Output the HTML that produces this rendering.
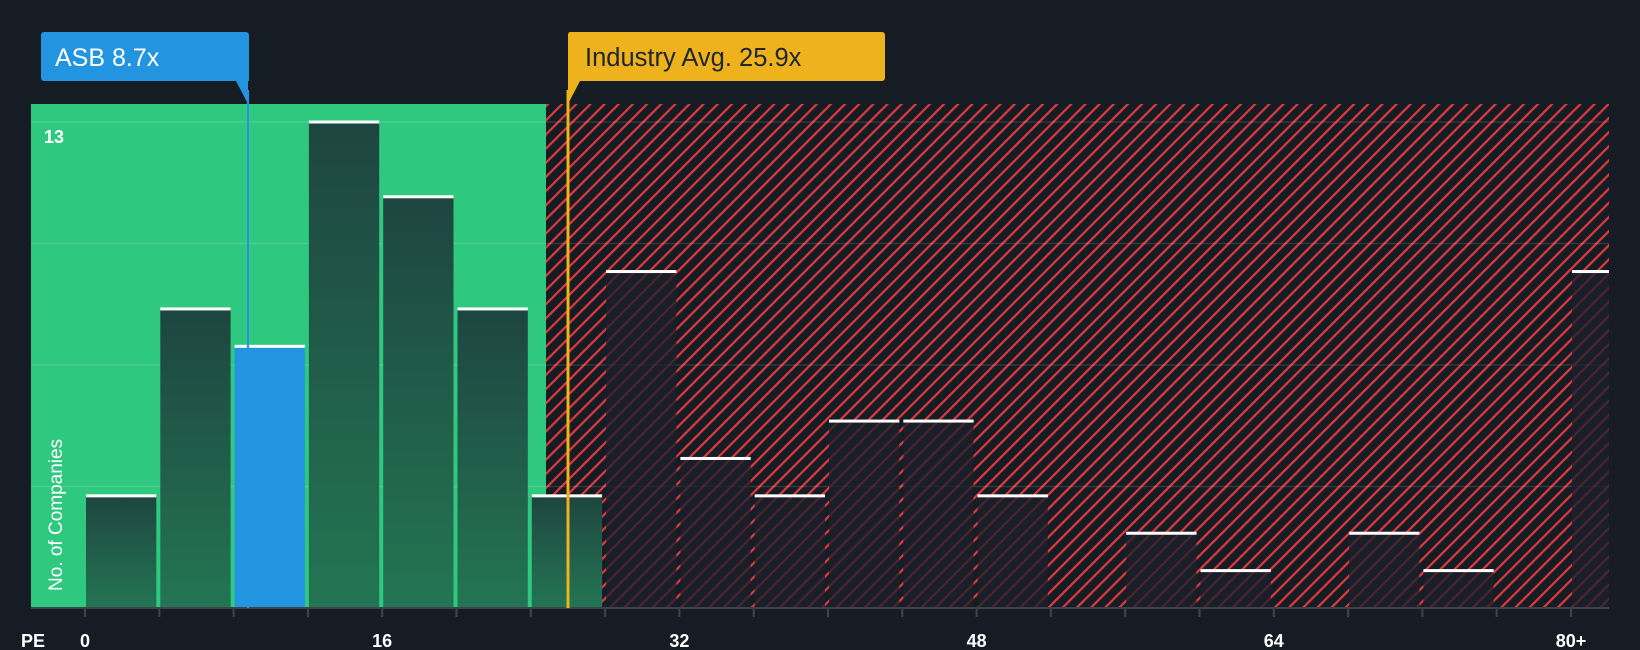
<!DOCTYPE html>
<html><head><meta charset="utf-8"><style>
html,body{margin:0;padding:0;background:#161c24;}
svg{display:block;font-family:"Liberation Sans",sans-serif;}
</style></head><body>
<svg id="chart" width="1640" height="650" viewBox="0 0 1640 650">
<defs>
<pattern id="hatch" patternUnits="userSpaceOnUse" width="10" height="10" patternTransform="rotate(45)">
<rect width="10" height="10" fill="#161c24"/>
<rect x="0" y="0" width="2.2" height="10" fill="#e0393e"/>
</pattern>
<linearGradient id="gbar" x1="0" y1="0" x2="0" y2="1">
<stop offset="0" stop-color="#1e4540"/><stop offset="1" stop-color="#237553"/>
</linearGradient>
<clipPath id="plotclip"><rect x="31" y="104" width="1578" height="504"/></clipPath>
</defs>
<rect x="31" y="104" width="515" height="504" fill="#2ec87f"/>
<rect x="546" y="104" width="1063" height="504" fill="url(#hatch)"/>
<g id="grid"></g>
<g id="bars" clip-path="url(#plotclip)"></g>
<line x1="31" y1="608" x2="1609" y2="608" stroke="#3d434c" stroke-width="2"/>
<g id="ticks"></g>
<text x="44" y="143" fill="#ffffff" font-size="18" font-weight="bold">13</text>
<text transform="translate(62,591) rotate(-90)" fill="#ffffff" font-size="19">No. of Companies</text>
<text x="21" y="647" fill="#ffffff" font-size="18" font-weight="bold">PE</text>
<line x1="248" y1="90" x2="248" y2="608" stroke="#2394e0" stroke-width="2"/>
<path d="M44,32 H246 a3,3 0 0 1 3,3 V81 H236 L248,104 L248,81 H44 a3,3 0 0 1 -3,-3 V35 a3,3 0 0 1 3,-3 Z" fill="#2394e0"/>
<text x="55" y="66" fill="#ffffff" font-size="25">ASB 8.7x</text>
<line x1="568" y1="90" x2="568" y2="608" stroke="#eeb21c" stroke-width="3"/>
<path d="M570,32 H882 a3,3 0 0 1 3,3 V78 a3,3 0 0 1 -3,3 H580 L568,104 V35 a3,3 0 0 1 2,-3 Z" fill="#eeb21c"/>
<text x="585" y="66" fill="#1f2630" font-size="25.5">Industry Avg. 25.9x</text>
</svg>
<script>
const binStarts=[0,4,8,12,16,20,24,28,32,36,40,44,48,52,56,60,64,68,72,76,80];
const counts=[3,8,7,13,11,8,3,9,4,3,5,5,3,0,2,1,0,2,1,0,9];
const tickLabels=["0","16","32","48","64","80+"];
const tickValues=[0,16,32,48,64,80];
const highlightBin=8;
const ns="http://www.w3.org/2000/svg";
const x0=85,pxPerUnit=74.3/4,y0=608,pxPerCount=486/13,fairEnd=546;
const xs=v=>x0+v*pxPerUnit, ys=c=>y0-c*pxPerCount;
function mk(t,a,p){const e=document.createElementNS(ns,t);for(const k in a)e.setAttribute(k,a[k]);p.appendChild(e);return e;}
const grid=document.getElementById('grid');
for(let i=1;i<=4;i++){const y=ys(13*i/4);
const l=mk('line',{x1:31,x2:1609,y1:y,y2:y,stroke:'rgba(255,255,255,0.12)','stroke-width':1.5},grid);

}
const bars=document.getElementById('bars');
binStarts.forEach((b,i)=>{const c=counts[i];if(!c)return;
const xa=xs(b)+1,w=74.3-4,yt=ys(c);
let fill=xa<fairEnd?'url(#gbar)':'rgba(26,31,42,0.76)';
if(b===highlightBin)fill='#2394e0';
const r=mk('rect',{x:xa,y:yt,width:w,height:y0-yt,fill:fill},bars);


const cap=mk('rect',{x:xa,y:yt-1.5,width:w,height:3,fill:'#ffffff'},bars);

});
const ticks=document.getElementById('ticks');
for(let v=0;v<=80;v+=4){const x=xs(v);
const t=mk('line',{x1:x,x2:x,y1:608,y2:617,stroke:'#3d434c','stroke-width':2},ticks);

}
tickValues.forEach((v,i)=>{const t=mk('text',{x:xs(v),y:647,fill:'#ffffff','font-size':18,'font-weight':'bold','text-anchor':'middle'},ticks);
t.textContent=tickLabels[i];

});
</script>
</body></html>
